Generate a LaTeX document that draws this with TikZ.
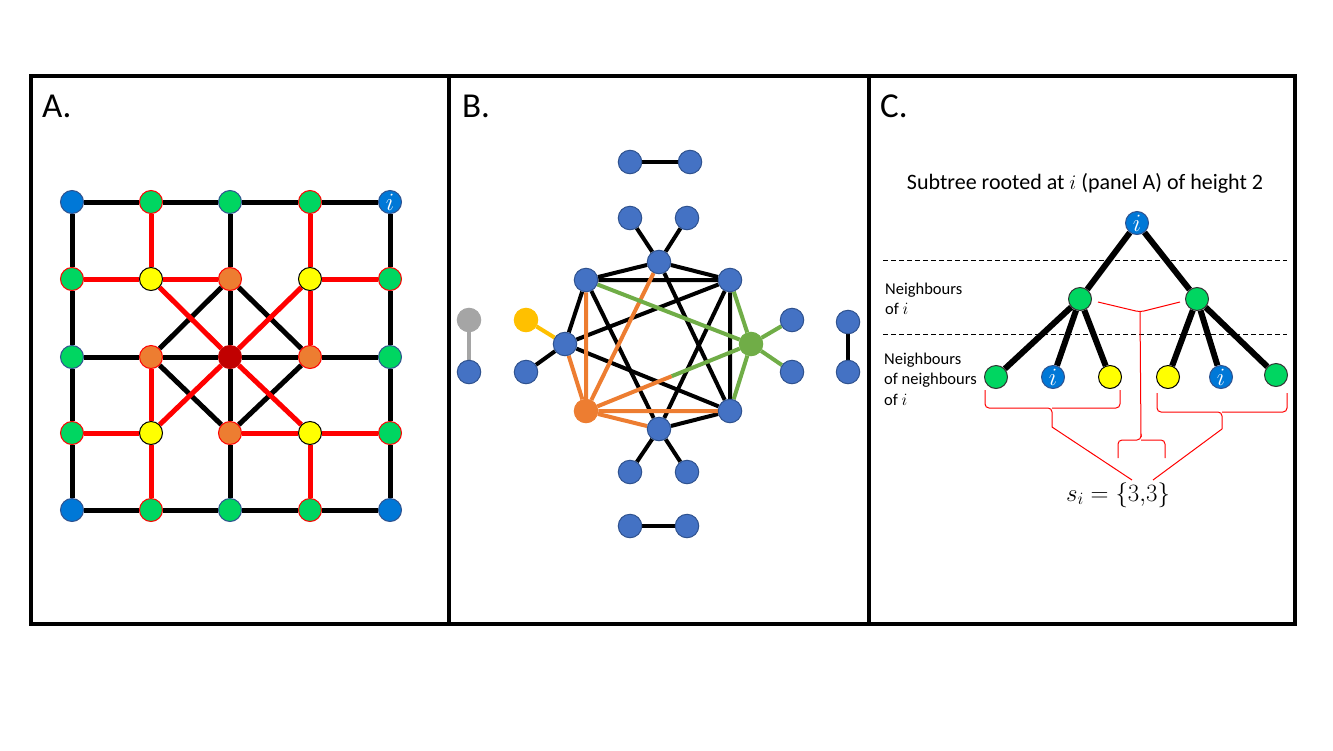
\documentclass[tikz,border=0pt]{standalone}
\usepackage{fontspec}
\setmainfont{Carlito}
\usepackage{xcolor}
\usepackage{tikz}
\usetikzlibrary{positioning,calc,backgrounds}
\definecolor{ablue}{HTML}{0078D7}
\definecolor{agreen}{HTML}{00D661}
\definecolor{ared}{HTML}{FF0000}
\definecolor{aorange}{HTML}{ED7D31}
\definecolor{adkred}{HTML}{C00000}
\definecolor{ayellow}{HTML}{FFFF00}
\definecolor{bblue}{HTML}{4472C4}
\definecolor{bblued}{HTML}{2F528F}
\definecolor{bgreen}{HTML}{70AD47}
\definecolor{bgold}{HTML}{FFC000}
\definecolor{bgrey}{HTML}{A5A5A5}
\tikzset{
  nd/.style={circle, minimum size=23pt, inner sep=0pt, line width=1pt},
  nblue/.style={nd, fill=ablue, draw=bblued, text=white, font=\fontsize{26}{26}\selectfont},
  ngrnr/.style={nd, fill=agreen, draw=ared},
  ngrnb/.style={nd, fill=agreen, draw=bblued},
  ngrnk/.style={nd, fill=agreen, draw=black!80},
  nyel/.style={nd, fill=ayellow, draw=black},
  norg/.style={nd, fill=aorange, draw=ared},
  ndred/.style={nd, fill=adkred, draw=adkred},
  bnd/.style={nd, minimum size=23.5pt, fill=bblue, draw=bblued},
  bfill/.style={nd, minimum size=23.5pt, fill=#1, draw=#1},
  eblk/.style={line width=5pt, draw=black},
  ered/.style={line width=5pt, draw=ared},
  bedge/.style={line width=4pt, draw=#1},
  tedge/.style={line width=6pt, draw=black},
  brc/.style={draw=ared, line width=1pt, rounded corners=4pt},
  sep/.style={draw=black, line width=1pt, dash pattern=on 5pt off 3pt},
  frm/.style={draw=black, line width=4pt},
  plab/.style={font=\fontsize{35}{35}\selectfont, anchor=base west, inner sep=0pt},
  lvl/.style={font=\fontsize{16.5}{20.5}\selectfont, align=left, anchor=west, inner sep=0pt},
}
\begin{document}
\begin{tikzpicture}[x=1pt,y=-1pt]
  \useasboundingbox (0,0) rectangle (1333,750);
  \node[plab] (labA) at (42,117) {A.};
  \node[plab] (labB) at (462,117) {B.};
  \node[plab] (labC) at (880,117) {C.};

  \node[nblue] (a11) at (72,202) {};
  \node[ngrnr] (a12) at (151,202) {};
  \node[ngrnb] (a13) at (230,202) {};
  \node[ngrnr] (a14) at (310,202) {};
  \node[nblue] (a15) at (390,202) {$i$};
  \node[ngrnr] (a21) at (72,279) {};
  \node[nyel] (a22) at (151,279) {};
  \node[norg] (a23) at (230,279) {};
  \node[nyel] (a24) at (310,279) {};
  \node[ngrnr] (a25) at (390,279) {};
  \node[ngrnb] (a31) at (72,357) {};
  \node[norg] (a32) at (151,357) {};
  \node[ndred] (a33) at (230,357) {};
  \node[norg] (a34) at (310,357) {};
  \node[ngrnb] (a35) at (390,357) {};
  \node[ngrnr] (a41) at (72,433) {};
  \node[nyel] (a42) at (151,433) {};
  \node[norg] (a43) at (230,433) {};
  \node[nyel] (a44) at (310,433) {};
  \node[ngrnr] (a45) at (390,433) {};
  \node[nblue] (a51) at (72,510) {};
  \node[ngrnr] (a52) at (151,510) {};
  \node[ngrnb] (a53) at (230,510) {};
  \node[ngrnr] (a54) at (310,510) {};
  \node[nblue] (a55) at (390,510) {};

  \node[bnd] (bp1) at (630,162) {};
  \node[bnd] (bp2) at (690,162) {};
  \node[bnd] (bt1) at (630,218) {};
  \node[bnd] (bt2) at (687,218) {};
  \node[bnd] (bT) at (659,262) {};
  \node[bnd] (bUL) at (586,280) {};
  \node[bnd] (bUR) at (730,280) {};
  \node[bnd] (bL) at (565,344) {};
  \node[bfill=bgreen] (bG) at (751,344) {};
  \node[bfill=aorange] (bO) at (586,411) {};
  \node[bnd] (bLR) at (730,411) {};
  \node[bnd] (bB) at (659,429) {};
  \node[bnd] (bb1) at (630,472) {};
  \node[bnd] (bb2) at (687,472) {};
  \node[bnd] (bq1) at (630,526) {};
  \node[bnd] (bq2) at (687,526) {};
  \node[bfill=bgrey] (bgr) at (469,320) {};
  \node[bnd] (bg2) at (469,372) {};
  \node[bfill=bgold] (bY) at (526,320) {};
  \node[bnd] (by2) at (526,372) {};
  \node[bnd] (br1) at (792,320) {};
  \node[bnd] (br2) at (792,372) {};
  \node[bnd] (bs1) at (848,322) {};
  \node[bnd] (bs2) at (848,372) {};
  \coordinate (bmid) at ($(bO)!0.52!(bG)$);

  \node[font=\fontsize{22}{26}\selectfont] (ttl) at (1085,183) {Subtree rooted at $i$ (panel A) of height 2};
  \node[nblue] (croot) at (1137,223) {$i$};
  \node[ngrnk] (cg1) at (1080,299) {};
  \node[ngrnk] (cg2) at (1197,299) {};
  \node[ngrnk] (cl1) at (996,377) {};
  \node[nblue] (cl2) at (1053,377) {$i$};
  \node[nyel] (cl3) at (1110,377) {};
  \node[nyel] (cl4) at (1168,377) {};
  \node[nblue] (cl5) at (1221,377) {$i$};
  \node[ngrnk] (cl6) at (1276,375) {};
  \node[lvl] (nb1) at (885,299) {Neighbours\\of $i$};
  \node[lvl] (nb2) at (884,379) {Neighbours\\of neighbours\\of $i$};
  \node[font=\fontsize{24}{24}\selectfont] (si) at (1118,495) {$s_i = \{3{,}3\}$};

  \begin{scope}[on background layer]
    \draw[eblk] (a11)--(a12)--(a13)--(a14)--(a15);
    \draw[eblk] (a51)--(a52)--(a53)--(a54)--(a55);
    \draw[eblk] (a11)--(a21)--(a31)--(a41)--(a51);
    \draw[eblk] (a15)--(a25)--(a35)--(a45)--(a55);
    \draw[eblk] (a13)--(a23)--(a33)--(a43)--(a53);
    \draw[eblk] (a31)--(a32)--(a33)--(a34)--(a35);
    \draw[eblk] (a23)--(a32)--(a43)--(a34)--(a23);
    \draw[ered] (a12)--(a22);\draw[ered] (a21)--(a22)--(a23);
    \draw[ered] (a14)--(a24)--(a34);\draw[ered] (a24)--(a25);
    \draw[ered] (a32)--(a42)--(a52);\draw[ered] (a41)--(a42);
    \draw[ered] (a43)--(a44)--(a45);\draw[ered] (a44)--(a54);
    \draw[ered] (a22)--(a33)--(a44);\draw[ered] (a24)--(a33)--(a42);

    \draw[bedge=black] (bp1)--(bp2);\draw[bedge=black] (bq1)--(bq2);
    \draw[bedge=black] (bt1)--(bT)--(bt2);\draw[bedge=black] (bb1)--(bB)--(bb2);
    \draw[bedge=black] (bUL)--(bT)--(bUR)--(bUL)--(bL);
    \draw[bedge=black] (bUL)--(bB);\draw[bedge=black] (bT)--(bLR);
    \draw[bedge=black] (bL)--(bUR)--(bLR)--(bL);\draw[bedge=black] (bUR)--(bB)--(bLR);
    \draw[bedge=black] (bL)--(by2);\draw[bedge=bgold] (bL)--(bY);
    \draw[bedge=bgrey] (bgr)--(bg2);\draw[bedge=black] (bs1)--(bs2);
    \draw[bedge=aorange] (bUL)--(bO)--(bT);\draw[bedge=aorange] (bL)--(bO)--(bLR);
    \draw[bedge=aorange] (bO)--(bB);\draw[bedge=aorange] (bO)--(bmid);
    \draw[bedge=bgreen] (bmid)--(bG);\draw[bedge=bgreen] (bUL)--(bG)--(bUR);
    \draw[bedge=bgreen] (bLR)--(bG);\draw[bedge=bgreen] (br1)--(bG)--(br2);

    \draw[tedge] (cg1)--(croot)--(cg2);
    \draw[tedge] (cl1)--(cg1)--(cl2);\draw[tedge] (cg1)--(cl3);
    \draw[tedge] (cl4)--(cg2)--(cl5);\draw[tedge] (cg2)--(cl6);
  \end{scope}

  \draw[sep] (883,260) -- (1287,260);
  \draw[sep] (883,334) -- (1287,334);
  \coordinate (tipL) at (1052,427);
  \coordinate (tipR) at (1222,429);
  \coordinate (tipM) at (1141,437);
  \draw[brc] (1098,302) -- (1140,312) -- (1180,302);
  \draw[brc] (1140,312) -- (tipM);
  \draw[brc] (985,390) -- (985,408) -- (1052,408) -- (tipL);
  \draw[brc] (1120,390) -- (1120,408) -- (1052,408);
  \draw[brc] (1157,393) -- (1157,412) -- (1222,412) -- (tipR);
  \draw[brc] (1287,393) -- (1287,412) -- (1222,412);
  \draw[brc] (1118,458) -- (1118,440) -- (1141,440) -- (tipM);
  \draw[brc] (1165,458) -- (1165,440) -- (1141,440);
  \draw[draw=ared, line width=1pt] (tipL) -- (1132,480);
  \draw[draw=ared, line width=1pt] (tipR) -- (1153,480);

  \draw[frm] (30.5,75.5) rectangle (1295,624);
  \draw[frm] (449,75.5) -- (449,624);
  \draw[frm] (868.5,75.5) -- (868.5,624);
\end{tikzpicture}
\end{document}
